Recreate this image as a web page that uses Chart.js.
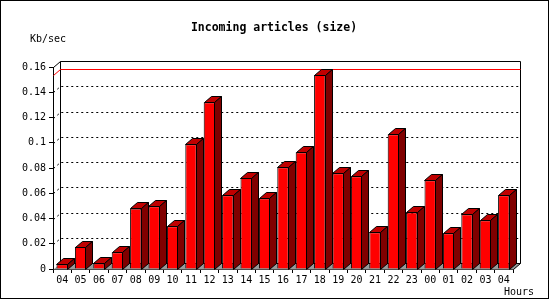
<!DOCTYPE html>
<html>
<head>
<meta charset="utf-8">
<script src="https://cdn.jsdelivr.net/npm/chart.js@4/dist/chart.umd.min.js"></script>
<style>
  body { margin: 0; background: #fff; }
  canvas { display: block; }
</style>
</head>
<body>
<canvas id="chart" width="550" height="300"></canvas>
<script>
const hours = ['04', '05', '06', '07', '08', '09', '10', '11', '12', '13', '14', '15', '16',
               '17', '18', '19', '20', '21', '22', '23', '00', '01', '02', '03', '04'];
const kbPerSec = [0.0037, 0.0177, 0.0045, 0.0132, 0.0480, 0.0497, 0.0338, 0.0988, 0.1320,
                  0.0584, 0.0721, 0.0560, 0.0806, 0.0924, 0.1537, 0.0758, 0.0734, 0.0291,
                  0.1067, 0.0449, 0.0703, 0.0283, 0.0433, 0.0386, 0.0584];
const yTickLabels = ['0', '0.02', '0.04', '0.06', '0.08', '0.1', '0.12', '0.14', '0.16'];

const DX = 7, DY = 6; // depth of the 3d box
const FONT = '"DejaVu Sans Mono", monospace';

// draws the 3d box, floor, back grid, text and bar sides
const frame3d = {
    id: 'frame3d',
    beforeDraw(chart) {
        const ctx = chart.ctx;
        ctx.save();
        ctx.fillStyle = '#fff';
        ctx.fillRect(0, 0, chart.width, chart.height);
        ctx.strokeStyle = '#000';
        ctx.lineWidth = 1;
        ctx.strokeRect(0.5, 0.5, 548, 298);

        ctx.fillStyle = '#000';
        ctx.textBaseline = 'middle';
        ctx.textAlign = 'center';
        ctx.font = 'bold 11.5px ' + FONT;
        ctx.fillText('Incoming articles (size)', 274, 28);
        ctx.textAlign = 'left';
        ctx.font = '10px ' + FONT;
        ctx.fillText('Kb/sec', 30, 39);
        ctx.fillText('Hours', 504, 292);
        ctx.restore();
    },
    beforeDatasetsDraw(chart) {
        const ctx = chart.ctx;
        const a = chart.chartArea;
        const y = chart.scales.y;
        const L = Math.round(a.left) + 0.5, R = Math.round(a.right) + 0.5;
        const T = Math.round(a.top) + 0.5, B = Math.round(a.bottom) + 0.5;
        ctx.save();
        ctx.lineWidth = 1;

        // floor
        ctx.fillStyle = '#999';
        ctx.beginPath();
        ctx.moveTo(L, B);
        ctx.lineTo(R, B);
        ctx.lineTo(R + DX, B - DY);
        ctx.lineTo(L + DX, B - DY);
        ctx.closePath();
        ctx.fill();

        // back wall frame
        ctx.strokeStyle = '#000';
        ctx.beginPath();
        ctx.moveTo(L, T);
        ctx.lineTo(L + DX, T - DY);
        ctx.lineTo(R + DX, T - DY);
        ctx.lineTo(R + DX, B - DY);
        ctx.lineTo(R, B);
        ctx.moveTo(L + DX, T - DY);
        ctx.lineTo(L + DX, B - DY);
        ctx.lineTo(R + DX, B - DY);
        ctx.stroke();

        // dotted grid on the back wall
        ctx.setLineDash([2, 3]);
        y.ticks.forEach(t => {
            if (t.value <= 0 || t.value >= 0.16) return;
            const py = Math.round(y.getPixelForValue(t.value)) + 0.5;
            ctx.beginPath();
            ctx.moveTo(L, py);
            ctx.lineTo(L + DX, py - DY);
            ctx.lineTo(R + DX, py - DY);
            ctx.stroke();
        });
        ctx.setLineDash([]);

        // max line
        const my = Math.round(y.getPixelForValue(Math.max(...kbPerSec))) + 0.5;
        ctx.strokeStyle = '#f00';
        ctx.beginPath();
        ctx.moveTo(L, my);
        ctx.lineTo(L + DX, my - DY);
        ctx.lineTo(R + DX, my - DY);
        ctx.stroke();
        ctx.restore();
    },
    afterDatasetsDraw(chart) {
        const ctx = chart.ctx;
        ctx.save();
        ctx.lineWidth = 1;
        ctx.strokeStyle = '#000';
        chart.getDatasetMeta(0).data.forEach(bar => {
            const l = Math.round(bar.x - bar.width / 2) + 0.5;
            const r = Math.round(bar.x + bar.width / 2) - 0.5;
            const t = Math.round(bar.y) + 0.5;
            const b = Math.round(bar.base) + 0.5;
            // top face
            ctx.fillStyle = '#c00000';
            ctx.beginPath();
            ctx.moveTo(l, t);
            ctx.lineTo(l + DX, t - DY);
            ctx.lineTo(r + DX, t - DY);
            ctx.lineTo(r, t);
            ctx.closePath();
            ctx.fill();
            ctx.stroke();
            // side face
            ctx.fillStyle = '#800000';
            ctx.beginPath();
            ctx.moveTo(r, t);
            ctx.lineTo(r + DX, t - DY);
            ctx.lineTo(r + DX, b - DY);
            ctx.lineTo(r, b);
            ctx.closePath();
            ctx.fill();
            ctx.stroke();
        });
        ctx.restore();
    }
};

new Chart(document.getElementById('chart'), {
    type: 'bar',
    data: {
        labels: hours,
        datasets: [{
            data: kbPerSec,
            backgroundColor: '#ff0000',
            borderColor: '#000',
            borderWidth: 1,
            barPercentage: 0.62,
            categoryPercentage: 1
        }]
    },
    options: {
        responsive: false,
        animation: false,
        layout: { padding: { top: 67, right: 37, left: 0, bottom: 0 } },
        plugins: {
            legend: { display: false },
            tooltip: { enabled: false }
        },
        scales: {
            x: {
                grid: { drawOnChartArea: false, tickLength: 4, color: '#000' },
                border: { color: '#000' },
                ticks: {
                    color: '#000',
                    font: { family: FONT, size: 10 },
                    maxRotation: 0,
                    autoSkip: false,
                    padding: 1
                },
                afterFit(scale) { scale.height = 31; }
            },
            y: {
                min: 0,
                max: 0.16,
                grid: { drawOnChartArea: false, tickLength: 4, color: '#000' },
                border: { color: '#000' },
                ticks: {
                    stepSize: 0.02,
                    color: '#000',
                    font: { family: FONT, size: 10 },
                    padding: 3,
                    callback: (v, i) => yTickLabels[i]
                },
                afterFit(scale) { scale.width = 53; }
            }
        }
    },
    plugins: [frame3d]
});
</script>
</body>
</html>
